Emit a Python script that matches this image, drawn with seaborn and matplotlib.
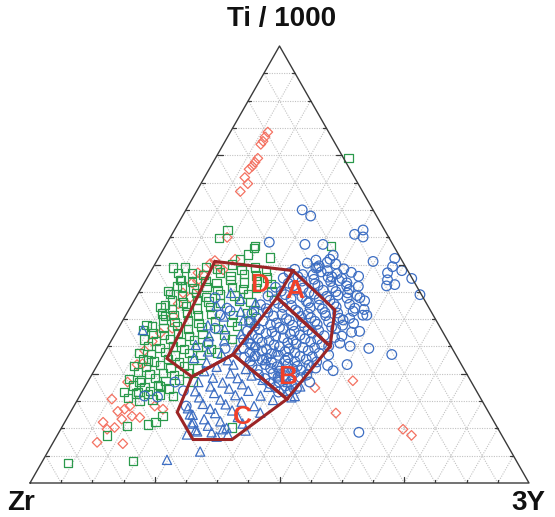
import numpy as np
import pandas as pd
import matplotlib
matplotlib.use("Agg")
import matplotlib.pyplot as plt
import seaborn as sns

sns.set_style("white")
plt.rcParams['font.family'] = ['Liberation Sans', 'DejaVu Sans']

# ---- data: (Ti/1000 %, 3Y %), Zr = 100 - Ti - 3Y ----
red_diamonds = [(80.3,7.5),(79.2,7.5),(78.2,7.6),(77.5,7.5),(74.3,8.5),(73.4,8.4),(72.5,8.3),(71.8,8.0),
    (69.9,8.1),(68.5,9.4),(66.7,8.8),(56.2,11.4),(50.9,11.6),(48.8,14.3),(47.7,10.9),(46.3,10.4),
    (45.8,9.6),(48.1,9.6),(44.7,11.2),(42.4,10.9),(38.2,9.6),(35.4,10.8),(30.3,7.8),(27.3,8.9),
    (27.1,7.9),(16.4,9.4),(16.9,10.5),(17.6,11.2),(15.3,12.8),(15.0,14.5),(14.6,11.1),(12.7,10.6),
    (13.9,7.7),(12.3,9.3),(9.3,8.8),(9.0,14.1),(17.6,16.2),(16.9,18.2),(50.2,11.0),(43.5,8.9),
    (41.0,9.2),(34.3,9.0),(32.4,8.3),(23.1,8.0),(19.2,6.8),(49.3,13.4),(51.2,15.5),
    (23.4,53.0),(21.8,46.2),(16.0,53.3),(12.3,68.6),(10.9,71.0)]

green_squares = [(74.3,26.7),(57.9,10.6),(56.0,9.9),(54.2,18.0),(54.2,33.2),(49.3,4.0),(49.3,6.4),
    (48.1,5.6),(46.5,6.8),(45.1,6.9),(44.0,5.7),(53.7,18.0),(51.6,22.3),(52.3,17.5),(51.2,16.5),
    (40.7,6.7),(38.2,8.0),(36.1,5.3),(35.0,5.1),(28.0,9.6),(23.1,10.4),(20.8,11.2),(20.4,13.4),
    (22.2,15.0),(19.9,18.7),(15.3,18.9),(13.9,18.2),(13.4,16.9),(13.0,12.9),(10.9,10.0),
    (4.6,5.3),(5.1,18.1),(12.7,34.1),
    (49.5,10.5),(49.0,13.0),(50.0,15.5),(48.8,18.0),(49.3,20.5),
    (48.0,8.5),(47.6,11.0),(48.2,14.0),(47.3,16.5),(47.8,19.0),(47.5,21.5),
    (46.5,7.0),(46.0,9.5),(46.3,12.0),(45.8,14.5),(46.4,17.0),(45.9,20.0),(46.1,22.5),
    (45.0,8.0),(44.5,10.5),(44.8,13.0),(44.2,15.5),(44.9,18.0),(44.4,20.5),(44.6,23.0),
    (43.2,6.5),(42.8,9.0),(43.5,11.5),(42.6,14.0),(43.1,16.5),(42.9,19.5),(43.3,22.0),
    (41.8,7.5),(41.3,10.0),(41.9,12.5),(41.5,15.0),(41.2,17.5),(41.7,21.0),(41.4,23.5),
    (40.3,6.0),(39.8,8.5),(40.5,11.0),(39.9,13.5),(40.2,16.0),(39.6,25.0),
    (38.8,7.0),(38.5,9.5),(39.0,12.0),(38.3,14.5),(38.7,17.0),(38.4,21.5),(38.9,24.0),
    (37.4,8.0),(36.9,10.5),(37.2,13.0),(36.6,15.5),(37.1,18.5),(36.8,22.0),(37.3,25.5),
    (35.8,6.5),(35.5,9.0),(36.0,11.5),(35.2,14.0),(35.7,16.5),(35.3,20.0),(35.9,23.5),
    (34.2,7.5),(33.8,10.0),(34.4,12.5),(33.6,15.0),(34.1,17.5),(33.9,22.0),
    (32.8,6.5),(32.5,9.0),(33.0,11.5),(32.3,14.0),(32.7,16.5),(32.4,19.5),(32.9,24.0),
    (31.4,8.0),(30.9,10.5),(31.2,13.0),(30.7,15.5),(31.1,18.0),(30.6,21.0),
    (29.8,7.0),(29.5,9.5),(30.0,12.0),(29.2,14.5),(29.7,17.0),(29.3,19.5),(29.9,22.5),
    (28.3,8.5),(27.8,11.0),(28.4,13.5),(27.6,16.0),(28.1,18.5),
    (26.8,7.5),(26.5,10.0),(27.0,12.5),(26.3,15.0),(26.7,17.5),(26.2,20.5),
    (25.4,9.0),(24.9,11.5),(25.2,14.0),(24.7,16.5),(25.1,19.0),
    (23.8,8.0),(23.5,10.5),(24.0,13.0),(23.3,15.5),(23.7,18.0),(23.2,21.0),
    (22.3,9.5),(21.9,12.0),(22.4,14.5),(21.6,17.0),
    (20.8,8.5),(20.5,11.0),(21.0,13.5),(20.2,16.0),
    (19.4,10.0),(18.9,12.5),(19.1,15.0),
    (47.0,24.0),(45.5,25.5),(43.8,26.5),(48.5,23.0)]

blue_circles = [(61.1,25.7),(62.5,23.3),(56.9,36.6),(57.9,37.8),(56.3,38.6),(55.1,20.4),(54.6,27.8),
    (54.6,31.4),(52.1,34.7),(51.2,34.5),(50.5,34.3),(50.7,43.4),(51.4,47.4),(49.5,47.9),(48.6,50.2),
    (48.1,47.6),(46.5,48.4),(45.4,50.4),(45.1,48.9),(46.8,53.1),(43.1,56.6),(49.3,33.0),(47.7,32.9),
    (47.2,36.9),(45.1,40.9),(42.4,44.9),(38.4,47.5),(38.4,48.3),(37.7,45.2),(36.1,44.6),(34.7,48.7),
    (33.6,45.7),(31.3,48.5),(30.8,52.5),(29.4,57.8),(27.1,50.0),(25.7,47.9),(23.1,44.5),(11.6,60.1),
    (46.3,38.8),(40.0,45.1),(43.5,41.9),
    (23.1,17.5),(19.7,15.7),(19.9,13.0),(21.1,20.2),(17.6,22.5),
    (42.4,15.9),(40.0,19.5),(39.4,20.4),(38.4,18.9),(35.4,19.4),(31.9,19.7),(30.8,23.7),
    (50.3,30.4),(49.7,33.1),(50.1,36.2),(51.0,31.8),
    (48.9,28.6),(49.2,32.7),(48.6,35.3),(49.0,38.4),
    (48.1,27.9),(47.7,30.8),(48.3,34.2),(47.9,37.6),(48.2,40.3),
    (46.9,27.3),(47.2,30.1),(46.6,33.6),(47.1,36.2),(46.8,39.1),(47.3,42.2),
    (45.7,28.9),(46.2,31.4),(45.6,34.3),(46.1,37.2),(45.8,40.6),
    (44.8,26.8),(45.1,30.2),(44.6,32.4),(45.2,35.1),(44.7,38.3),(45.0,43.3),
    (43.9,28.4),(44.2,31.2),(43.6,34.1),(44.1,36.7),(43.8,39.4),(44.3,41.8),
    (42.8,26.3),(43.1,29.6),(42.6,33.2),(43.2,35.4),(42.7,38.1),(43.0,40.2),(42.9,44.1),
    (41.9,28.1),(42.2,31.2),(41.6,34.6),(42.1,36.9),(41.8,39.2),(42.3,42.4),(41.7,46.2),
    (40.8,25.8),(41.1,29.2),(40.6,32.1),(41.2,35.2),(40.7,37.6),(41.0,40.4),(40.9,43.6),
    (39.9,27.4),(40.2,30.6),(39.6,33.4),(40.1,36.1),(39.8,38.7),(40.3,41.2),(39.7,47.1),
    (38.8,25.1),(39.1,28.1),(38.6,31.2),(39.2,34.1),(38.7,36.4),(39.0,39.6),(38.9,42.2),(39.3,45.1),
    (37.9,26.4),(38.2,29.7),(37.6,32.6),(38.1,35.2),(37.8,37.4),(38.3,40.1),(37.7,43.2),
    (36.8,25.6),(37.1,28.2),(36.6,31.1),(37.2,33.4),(36.7,36.2),(37.0,38.6),(36.9,41.4),(37.3,44.1),(36.5,46.6),
    (35.9,27.1),(36.2,30.1),(35.6,32.2),(36.1,34.6),(35.8,37.1),(36.3,39.4),(35.7,42.6),
    (34.8,26.2),(35.1,28.4),(34.6,31.2),(35.2,33.1),(34.7,35.6),(35.0,38.2),(34.9,40.4),(35.3,43.6),(34.5,47.2),
    (33.9,27.6),(34.2,30.2),(33.6,32.4),(34.1,35.1),(33.8,37.2),(34.3,39.4),(33.7,42.1),
    (32.8,26.4),(33.1,29.1),(32.6,31.6),(33.2,34.2),(32.7,36.4),(33.0,38.6),(32.9,41.2),(33.3,44.4),
    (31.9,28.2),(32.2,30.4),(31.6,33.1),(32.1,35.6),(31.8,37.4),(32.3,40.1),(31.7,42.6),(32.0,46.1),
    (30.8,27.4),(31.1,29.6),(30.6,32.1),(31.2,34.4),(30.7,36.6),(31.0,39.2),(30.9,41.6),(31.3,44.2),
    (29.9,29.1),(30.2,31.4),(29.6,33.6),(30.1,36.1),(29.8,38.2),(30.3,40.6),(29.7,43.1),
    (28.8,28.6),(29.1,30.6),(28.6,33.1),(29.2,35.2),(28.7,37.4),(29.0,39.6),(28.9,42.1),(29.3,45.2),
    (27.9,30.2),(28.2,32.4),(27.6,34.6),(28.1,37.1),(27.8,39.2),(28.3,41.2),(27.7,43.6),
    (26.8,31.1),(27.1,33.6),(26.6,36.2),(27.2,38.1),(26.7,40.2),(27.0,42.4),(26.9,46.2),
    (25.9,32.6),(26.2,35.1),(25.6,37.2),(26.1,39.6),(25.8,41.4),(26.3,44.1),
    (24.8,33.4),(25.1,36.2),(24.6,38.6),(25.2,40.4),(24.7,43.1),
    (23.9,35.1),(24.2,37.6),(23.6,39.4),(24.1,42.2),
    (22.8,36.6),(23.1,38.4),(22.6,41.1),
    (21.9,38.2),(22.2,40.1),(21.6,42.6),
    (20.8,39.4),(21.1,41.6)]

blue_triangles = [(43.5,18.5),(42.1,21.2),(40.6,17.1),(39.2,22.6),(38.1,19.8),(37.2,24.1),(36.1,17.6),
    (35.2,21.4),(34.1,25.2),(33.6,19.1),(32.6,22.6),(31.6,17.4),(30.6,26.1),(30.1,20.6),(29.6,23.6),
    (28.6,18.6),(28.1,25.6),(27.6,21.6),(41.2,24.6),(36.6,26.8),(33.1,27.4),
    (27.1,27.2),(26.6,24.1),(26.1,30.2),(25.6,22.1),(25.1,27.6),(24.6,32.1),(24.1,24.6),(24.0,29.6),
    (23.6,34.8),(23.1,22.2),(23.0,27.1),(22.6,31.2),(22.1,25.1),(22.0,36.8),(21.6,29.1),(21.1,33.2),
    (21.0,22.6),(20.6,26.6),(20.1,31.1),(20.0,36.2),(19.6,24.1),(19.1,28.6),(19.0,39.2),(18.6,33.1),
    (18.1,25.6),(18.0,30.2),(17.6,36.1),(17.1,23.1),(17.0,27.6),(16.6,32.2),(16.1,38.1),(16.0,29.1),
    (15.6,24.8),(15.1,34.1),(14.6,27.6),(14.1,31.1),(13.6,35.8),(13.6,25.6),(13.1,29.1),(12.6,33.1),
    (12.1,27.1),(12.0,37.2),(11.6,30.6),(11.1,34.1),(11.1,25.9),(10.6,32.1),(11.8,27.6),(12.3,32.5),
    (13.9,25.8),(15.7,24.2),
    (28.1,33.2),(27.1,36.6),(25.6,39.1),(29.1,30.4),(30.1,34.2),(31.6,29.1),(24.6,37.4),(23.1,40.1),
    (21.1,41.1),(19.6,42.6),(22.1,43.1),(19.9,43.1),(26.3,42.6),
    (5.3,24.8),(7.2,30.5),(35.0,5.1)]

# discrimination fields (Ti %, 3Y %)
field_D = [(50.7,11.7),(48.6,28.4),(42.4,28.3),(29.4,26.0),(24.3,20.3),(28.5,13.2),(50.7,11.7)]
field_A = [(48.6,28.4),(39.6,41.3),(31.3,44.5),(42.4,28.3)]
field_B = [(42.4,28.3),(31.3,44.5),(19.2,41.9),(29.4,26.0)]
field_C = [(24.3,20.3),(29.4,26.0),(19.2,41.9),(9.95,35.5),(9.95,27.7),(16.2,21.4),(24.3,20.3)]
field_labels = ["D", "A", "B", "C"]
field_label_pos = [(45.4,23.4),(44.0,31.1),(24.3,39.5),(15.0,35.0)]

apex_labels = ["Ti / 1000", "Zr", "3Y"]

H = np.sqrt(3) / 2


def to_xy(ti, y3):
    ti = np.asarray(ti, float) / 100.0
    y3 = np.asarray(y3, float) / 100.0
    return y3 + ti / 2.0, ti * H


def frame(pairs, name):
    arr = np.array(pairs, float)
    x, y = to_xy(arr[:, 0], arr[:, 1])
    return pd.DataFrame({"x": x, "y": y, "group": name})


fig = plt.figure(figsize=(5.55, 5.17), dpi=100)
ax = fig.add_axes([30 / 555, 34 / 517, 499 / 555, 437 / 517])
ax.set_xlim(0, 1)
ax.set_ylim(0, H)
ax.axis("off")

# grid
gcol = "#c2c2c2"
n = 16
for k in range(1, n):
    c = k / n
    ax.plot([c / 2, 1 - c / 2], [c * H, c * H], color=gcol, lw=0.8, ls=(0, (1, 1.2)), zorder=0)
    ax.plot([c, c + (1 - c) / 2], [0, (1 - c) * H], color=gcol, lw=0.8, ls=(0, (1, 1.2)), zorder=0)
    ax.plot([1 - c, (1 - c) / 2], [0, (1 - c) * H], color=gcol, lw=0.8, ls=(0, (1, 1.2)), zorder=0)

# triangle frame
ax.plot([0, 1, 0.5, 0], [0, 0, H, 0], color="#3a3a3a", lw=1.0, zorder=5, clip_on=False)
for k in range(1, n):
    L = 0.011 if k % 4 == 0 else 0.006
    c = k / n
    ax.plot([c, c], [0, L], color="#3a3a3a", lw=0.9, zorder=5)
    ax.plot([c / 2, c / 2 + L], [c * H, c * H], color="#3a3a3a", lw=0.9, zorder=5)
    ax.plot([1 - c / 2, 1 - c / 2 - L], [c * H, c * H], color="#3a3a3a", lw=0.9, zorder=5)

red = "#f47262"
green = "#2b9a4c"
blue = "#3d6ec3"

d_red = frame(red_diamonds, "red")
d_green = frame(green_squares, "green")
d_circ = frame(blue_circles, "circ")
d_tri = frame(blue_triangles, "tri")

sns.scatterplot(data=d_red, x="x", y="y", ax=ax, marker="D", s=24, facecolor="none",
                edgecolor=red, linewidth=0.9, zorder=2, legend=False)
sns.scatterplot(data=d_green, x="x", y="y", ax=ax, marker="s", s=36, facecolor="none",
                edgecolor=green, linewidth=0.9, zorder=3, legend=False)
sns.scatterplot(data=d_circ, x="x", y="y", ax=ax, marker="o", s=48, facecolor="none",
                edgecolor=blue, linewidth=0.9, zorder=3, legend=False)
sns.scatterplot(data=d_tri, x="x", y="y", ax=ax, marker="^", s=44, facecolor="none",
                edgecolor=blue, linewidth=0.9, zorder=3, legend=False)

pcol = "#9c2526"
for poly in [field_D, field_A, field_B, field_C]:
    arr = np.array(poly, float)
    px, py = to_xy(arr[:, 0], arr[:, 1])
    ax.plot(px, py, color=pcol, lw=2.2, zorder=6, solid_joinstyle="miter")

for lab, (ti, y3) in zip(field_labels, field_label_pos):
    lx, ly = to_xy(ti, y3)
    ax.text(lx, ly, lab, color="#f0402a", fontsize=19, fontweight="bold",
            ha="center", va="center", zorder=7)

fig.text(282 / 555, 1 - 19 / 517, apex_labels[0], ha="center", va="center",
         fontsize=20, fontweight="bold", color="#111111")
fig.text(21 / 555, 1 - 503 / 517, apex_labels[1], ha="center", va="center",
         fontsize=20, fontweight="bold", color="#111111")
fig.text(528 / 555, 1 - 503 / 517, apex_labels[2], ha="center", va="center",
         fontsize=20, fontweight="bold", color="#111111")

fig.savefig("out.png", dpi=100)
